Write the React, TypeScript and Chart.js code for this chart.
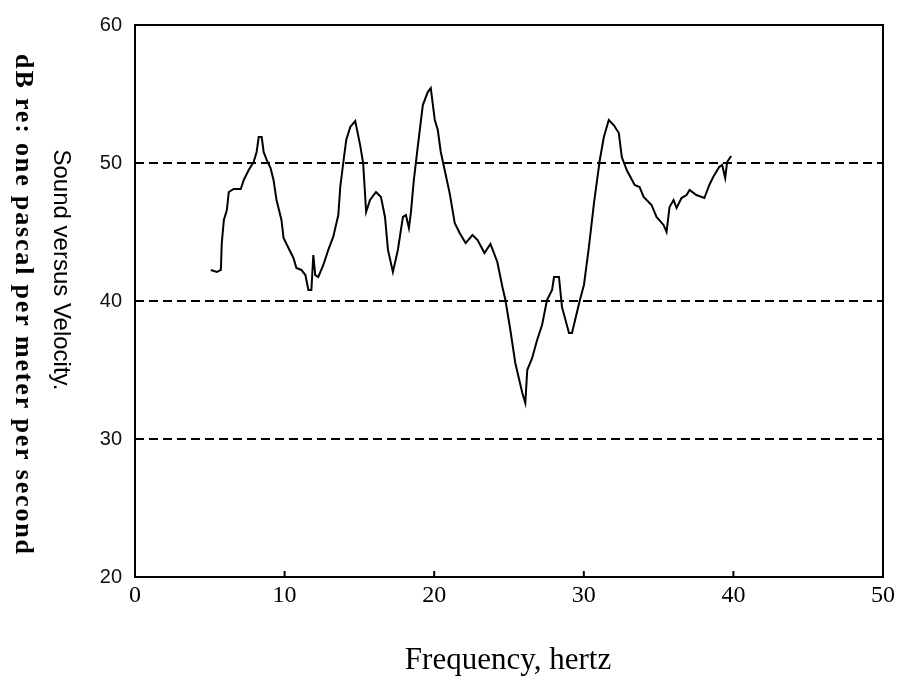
import React, { useEffect, useRef } from "react";
import { Chart, registerables } from "chart.js";

Chart.register(...registerables);

// Frequency (hertz) samples
const frequency = [
  5.07, 5.47, 5.74, 5.8, 5.94, 6.14, 6.27, 6.6, 7.07, 7.27, 7.6, 7.93, 8.13, 8.27, 8.47, 8.6, 8.8, 9.06, 9.26, 9.46,
  9.79, 9.93, 10.26, 10.59, 10.79, 11.12, 11.39, 11.59, 11.79, 11.92, 12.05, 12.25, 12.59, 12.92, 13.25, 13.59, 13.72,
  13.92, 14.12, 14.39, 14.72, 15.05, 15.25, 15.45, 15.71, 16.11, 16.44, 16.71, 16.91, 17.24, 17.57, 17.91, 18.11,
  18.31, 18.44, 18.64, 18.9, 19.24, 19.57, 19.77, 20.04, 20.24, 20.44, 20.7, 21.03, 21.37, 21.7, 22.1, 22.56, 22.9,
  23.36, 23.76, 24.22, 24.56, 24.76, 25.09, 25.42, 25.89, 26.09, 26.22, 26.55, 26.88, 27.21, 27.54, 27.88, 28.01,
  28.34, 28.54, 29.01, 29.21, 29.74, 30.01, 30.34, 30.68, 31.07, 31.34, 31.67, 32.0, 32.34, 32.54, 32.87, 33.4,
  33.73, 34.0, 34.53, 34.86, 35.33, 35.53, 35.73, 36.0, 36.2, 36.53, 36.87, 37.07, 37.53, 38.06, 38.39, 38.65,
  39.05, 39.25, 39.45, 39.58, 39.85,
];

// Sound level (dB) at each frequency sample
const soundLevel = [
  42.25, 42.1, 42.25, 44.2, 45.87, 46.59, 47.9, 48.12, 48.12, 48.77, 49.49, 50.07, 50.8, 51.88, 51.88, 50.8, 50.22,
  49.64, 48.77, 47.32, 45.87, 44.57, 43.84, 43.12, 42.39, 42.25, 41.88, 40.8, 40.8, 43.33, 41.88, 41.74, 42.61, 43.7,
  44.64, 46.23, 48.26, 50.0, 51.67, 52.61, 53.04, 51.3, 50.0, 46.45, 47.32, 47.9, 47.54, 46.09, 43.7, 42.1, 43.7,
  46.09, 46.23, 45.29, 46.38, 48.77, 51.16, 54.2, 55.14, 55.43, 53.12, 52.39, 50.8, 49.49, 47.83, 45.65, 44.93, 44.2,
  44.78, 44.42, 43.48, 44.13, 42.83, 41.01, 40.07, 37.9, 35.51, 33.33, 32.61, 35.0, 35.87, 37.17, 38.26, 40.07, 40.8,
  41.74, 41.74, 39.57, 37.68, 37.68, 40.07, 41.16, 43.91, 47.1, 50.22, 51.88, 53.12, 52.75, 52.17, 50.43, 49.49,
  48.41, 48.26, 47.54, 46.96, 46.09, 45.51, 45.0, 46.81, 47.32, 46.74, 47.46, 47.68, 48.04, 47.68, 47.46, 48.41,
  48.99, 49.71, 49.86, 48.91, 50.07, 50.51,
];

const xTickValues = [0, 10, 20, 30, 40, 50];
const yTickValues = [20, 30, 40, 50, 60];
const dashedLevels = [30, 40, 50];

const xTitle = "Frequency, hertz";
const yTitleLine1 = "Sound versus Velocity.";
const yTitleLine2 = "dB re: one pascal per meter per second";

const SANS = '"Liberation Sans", Arial, sans-serif';
const SERIF = '"Liberation Serif", "Times New Roman", serif';

const framePlugin = {
  id: "framePlugin",
  afterDraw(chart: any) {
    const { ctx, chartArea } = chart;
    const xs = chart.scales.x;
    const ys = chart.scales.y;
    const { left, right, top, bottom } = chartArea;
    ctx.save();
    ctx.strokeStyle = "#000";
    ctx.lineWidth = 2;
    ctx.setLineDash([]);
    ctx.strokeRect(left, top, right - left, bottom - top);
    // inward tick marks
    ctx.beginPath();
    xTickValues.forEach((v) => {
      const px = xs.getPixelForValue(v);
      ctx.moveTo(px, bottom);
      ctx.lineTo(px, bottom - 6);
    });
    yTickValues.forEach((v) => {
      const py = ys.getPixelForValue(v);
      ctx.moveTo(left, py);
      ctx.lineTo(left + 6, py);
    });
    ctx.stroke();

    // x title
    ctx.fillStyle = "#000";
    ctx.font = `31px ${SERIF}`;
    ctx.textAlign = "center";
    ctx.textBaseline = "middle";
    ctx.fillText(xTitle, (left + right) / 2 - 1, 661);

    // y titles (rotated clockwise)
    ctx.save();
    ctx.translate(61, 270);
    ctx.rotate(Math.PI / 2);
    ctx.font = `24px ${SANS}`;
    ctx.fillText(yTitleLine1, 0, 0);
    ctx.restore();

    ctx.save();
    ctx.translate(23, 305);
    ctx.rotate(Math.PI / 2);
    ctx.font = `bold 26px ${SERIF}`;
    const w = ctx.measureText(yTitleLine2).width;
    const target = 500;
    const n = yTitleLine2.length;
    try {
      (ctx as any).letterSpacing = `${Math.max(0, (target - w) / (n - 1))}px`;
    } catch (e) {}
    ctx.fillText(yTitleLine2, 0, 0);
    ctx.restore();
    ctx.restore();
  },
};

export default function App() {
  const ref = useRef<HTMLCanvasElement | null>(null);
  useEffect(() => {
    if (!ref.current) return;
    const chart = new Chart(ref.current, {
      type: "line",
      data: {
        datasets: [
          {
            data: frequency.map((f, i) => ({ x: f, y: soundLevel[i] })),
            borderColor: "#000",
            borderWidth: 2,
            pointRadius: 0,
            tension: 0,
            fill: false,
          },
        ],
      },
      options: {
        responsive: false,
        animation: false,
        layout: { padding: { top: 25, right: 21, left: 0, bottom: 0 } },
        plugins: { legend: { display: false }, tooltip: { enabled: false }, title: { display: false } },
        scales: {
          x: {
            type: "linear",
            min: 0,
            max: 50,
            afterBuildTicks: (scale: any) => {
              scale.ticks = xTickValues.map((v) => ({ value: v }));
            },
            afterFit: (scale: any) => {
              scale.height = 100;
            },
            grid: { display: false, drawTicks: false },
            border: { display: false },
            ticks: {
              padding: 4,
              color: "#000",
              font: { family: SERIF, size: 24 },
              maxRotation: 0,
              autoSkip: false,
            },
          },
          y: {
            type: "linear",
            min: 20,
            max: 60,
            afterBuildTicks: (scale: any) => {
              scale.ticks = yTickValues.map((v) => ({ value: v }));
            },
            afterFit: (scale: any) => {
              scale.width = 135;
            },
            grid: {
              drawTicks: false,
              color: (c: any) => (dashedLevels.includes(c.tick?.value) ? "#000" : "rgba(0,0,0,0)"),
              lineWidth: 2,
            },
            border: { display: false, dash: [9, 5] },
            ticks: {
              padding: 13,
              color: "#111",
              font: { family: SANS, size: 20 },
              autoSkip: false,
            },
          },
        },
      },
      plugins: [framePlugin],
    } as any);
    return () => chart.destroy();
  }, []);
  return (
    <div style={{ position: "absolute", left: 0, top: 0, width: 904, height: 677, background: "#fff" }}>
      <canvas ref={ref} width={904} height={677} style={{ display: "block" }} />
    </div>
  );
}
